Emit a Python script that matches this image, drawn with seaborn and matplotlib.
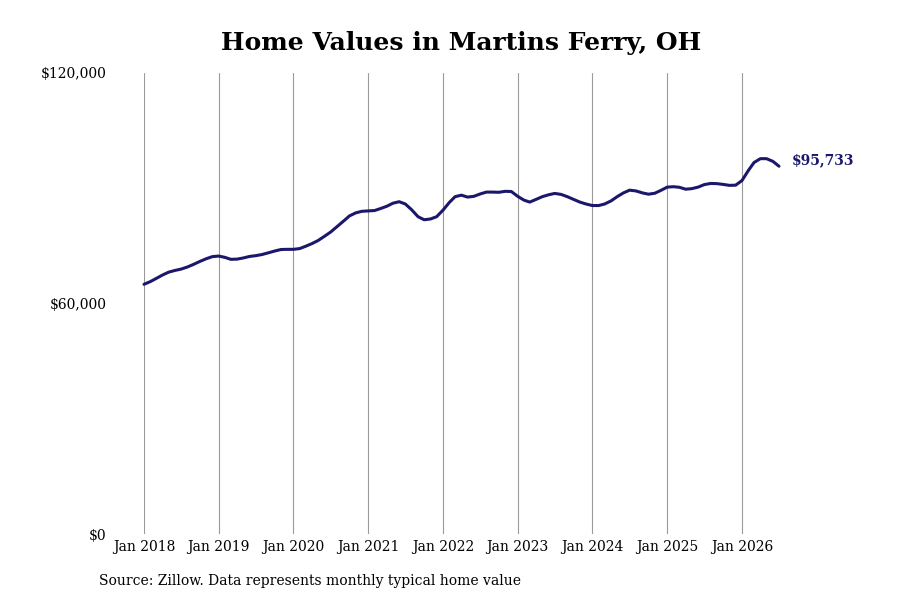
import numpy as np
import pandas as pd
import matplotlib
matplotlib.use("Agg")
import matplotlib.pyplot as plt
import matplotlib.dates as mdates
import matplotlib.ticker as mticker
import seaborn as sns

start_month = "2018-01-01"
home_values = [
    65000, 65700, 66500, 67400, 68150, 68600, 68950, 69500, 70200, 70950, 71650, 72200,
    72350, 72000, 71500, 71550, 71850, 72250, 72450, 72750, 73200, 73650, 74050, 74100,
    74100, 74300, 74900, 75600, 76400, 77500, 78600, 80000, 81400, 82800, 83600, 84000,
    84100, 84200, 84700, 85300, 86100, 86500, 85900, 84400, 82600, 81800, 82000, 82600,
    84300, 86300, 87800, 88200, 87700, 87900, 88500, 89000, 89000, 88950, 89200, 89150,
    87900, 86900, 86400, 87100, 87800, 88300, 88650, 88400, 87800, 87100, 86400, 85900,
    85500, 85500, 85900, 86700, 87800, 88800, 89500, 89300, 88800, 88450, 88700, 89450,
    90300, 90400, 90250, 89750, 89900, 90300, 90950, 91250, 91200, 91000, 90750, 90800,
    92000, 94600, 96700, 97700, 97700, 97000, 95733,
]
y_ticks = [0, 60000, 120000]
y_tick_labels = ["$0", "$60,000", "$120,000"]
x_tick_years = [2018, 2019, 2020, 2021, 2022, 2023, 2024, 2025, 2026]
title = "Home Values in Martins Ferry, OH"
source = "Source: Zillow. Data represents monthly typical home value"
last_label = "$95,733"

dates = pd.date_range(start_month, periods=len(home_values), freq="MS")
df = pd.DataFrame({"date": dates, "value": home_values})

sns.set_theme(style="white")
plt.rcParams["font.family"] = ["DejaVu Serif"]

line_color = "#1b176a"

fig = plt.figure(figsize=(9, 6), dpi=100)
ax = fig.add_axes([144 / 900, 66 / 600, 635 / 900, 461 / 600])

sns.lineplot(data=df, x="date", y="value", ax=ax, color=line_color, linewidth=2.2)
for l in ax.lines:
    l.set_clip_on(False)

ax.set_xlim(dates[0], dates[-1])
ax.set_ylim(0, 120000)
ax.set_yticks(y_ticks)
ax.set_yticklabels(y_tick_labels)
xt = [pd.Timestamp(f"{y}-01-01") for y in x_tick_years]
ax.set_xticks(xt)
ax.set_xticklabels([f"Jan {y}" for y in x_tick_years])
ax.tick_params(axis="y", length=0, pad=27, labelsize=10, colors="black")
ax.tick_params(axis="x", length=0, pad=4, labelsize=10, colors="black")
ax.set_xlabel("")
ax.set_ylabel("")
for s in ax.spines.values():
    s.set_visible(False)
ax.grid(False)
ax.xaxis.grid(True, color="#9a9a9a", linewidth=0.8)
ax.set_axisbelow(True)

ax.annotate(last_label, xy=(dates[-1], home_values[-1]), xytext=(13, 6),
            textcoords="offset pixels", ha="left", va="center",
            fontsize=10, fontweight="bold", color=line_color)

fig.text(461 / 900, 1 - 43 / 600, title, ha="center", va="center",
         fontsize=18, fontweight="bold", color="black")
fig.text(99 / 900, 1 - 581 / 600, source, ha="left", va="center",
         fontsize=10, color="black")

fig.savefig("out.png", dpi=100)
